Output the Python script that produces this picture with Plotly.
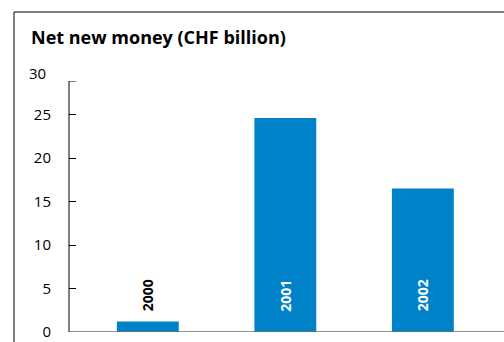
import plotly.graph_objects as go

years = ["2000", "2001", "2002"]
values = [1.2, 24.6, 16.5]
label_colors = ["#000000", "#ffffff", "#ffffff"]
label_y = 4.2
tick_vals = [0, 5, 10, 15, 20, 25]
top_label = 30
y_top = 28.85

W, H = 504, 342
ML, MR, MT, MB = 69, 0, 81, 10
PW = W - ML - MR
PH = H - MT - MB

fig = go.Figure()
fig.add_trace(go.Bar(x=years, y=values, marker_color="#0082c8", width=0.45,
                     marker_line_width=0, hoverinfo="skip"))

annotations = []
for i, (yr, col) in enumerate(zip(years, label_colors)):
    annotations.append(dict(x=i, y=label_y, xref="x", yref="y", text="<b>%s</b>" % yr,
                            textangle=-90, showarrow=False,
                            font=dict(family="Open Sans", size=14, color=col)))
annotations.append(dict(x=0, y=top_label / y_top, xref="paper", yref="paper", text=str(top_label),
                        xanchor="right", yanchor="middle", xshift=-21, yshift=-2, showarrow=False,
                        font=dict(family="Open Sans", size=15, color="#000000")))

px = lambda p: (p - ML) / PW
py = lambda p: (H - MB - p) / PH
shapes = [
    # frame
    dict(type="line", xref="paper", yref="paper", x0=px(14), x1=px(14), y0=-0.1, y1=py(12), line=dict(color="#000000", width=1)),
    dict(type="line", xref="paper", yref="paper", x0=px(14), x1=1, y0=py(12), y1=py(12), line=dict(color="#000000", width=1)),
    # y axis line
    dict(type="line", xref="paper", yref="y", x0=0, x1=0, y0=0, y1=y_top, line=dict(color="#000000", width=1)),
    dict(type="line", xref="paper", yref="y", x0=0, x1=px(76), y0=y_top, y1=y_top, line=dict(color="#000000", width=1)),
    # x baseline
    dict(type="line", xref="paper", yref="y", x0=0, x1=1, y0=0, y1=0, line=dict(color="#6e6e6e", width=1.5)),
]

fig.update_layout(
    width=W, height=H, margin=dict(l=ML, r=MR, t=MT, b=MB),
    paper_bgcolor="#ffffff", plot_bgcolor="#ffffff", showlegend=False,
    title=dict(text="<b>Net new money (CHF billion)</b>", xref="container", yref="container",
               x=31 / W, xanchor="left", y=1 - 38 / H, yanchor="middle",
               font=dict(family="Open Sans", size=18, color="#000000")),
    xaxis=dict(type="category", range=[-0.573, 2.59], showticklabels=False, ticks="", showline=False,
               showgrid=False, zeroline=False, fixedrange=True),
    yaxis=dict(range=[0, y_top], tickvals=tick_vals, ticks="inside", ticklen=7, tickcolor="#000000",
               showline=False, showgrid=False, zeroline=False, ticklabelstandoff=17,
               tickfont=dict(family="Open Sans", size=15, color="#000000")),
    annotations=annotations, shapes=shapes,
)
fig.write_html("out.html")
